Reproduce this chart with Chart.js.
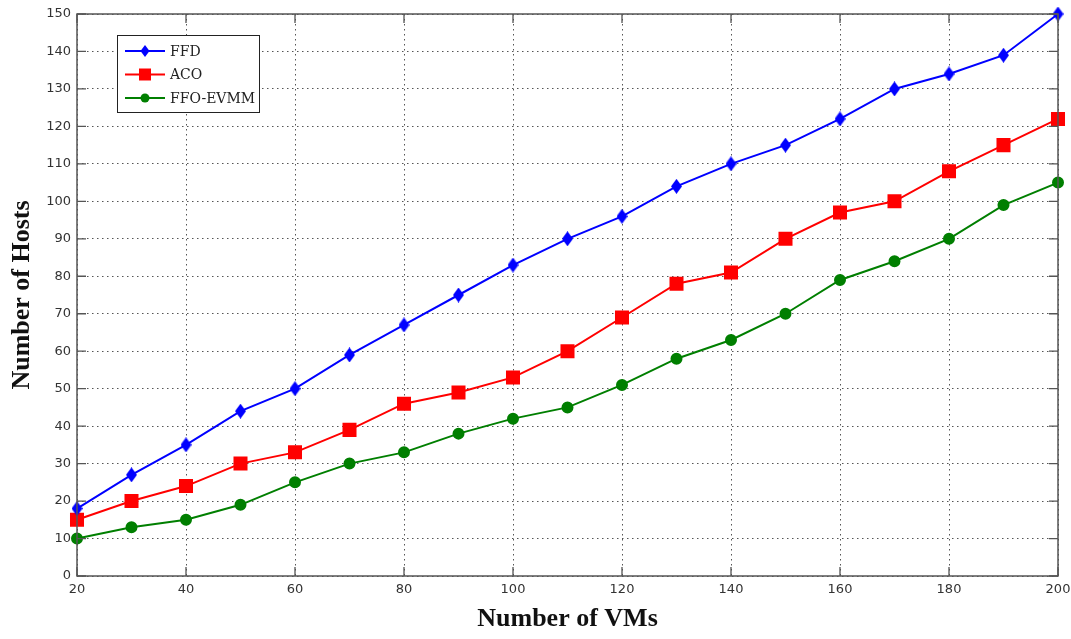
<!DOCTYPE html>
<html>
<head>
<meta charset="utf-8">
<script src="https://cdn.jsdelivr.net/npm/chart.js@4.4.0/dist/chart.umd.min.js"></script>
<style>
  html, body { margin: 0; padding: 0; background: #fff; }
  #wrap { width: 1071px; height: 639px; position: relative; }
</style>
</head>
<body>
<div id="wrap"><canvas id="chart1"></canvas></div>
<script>
// number of VMs on the x axis
const vms = [20, 30, 40, 50, 60, 70, 80, 90, 100, 110, 120, 130, 140, 150, 160, 170, 180, 190, 200];
const ffd = [18, 27, 35, 44, 50, 59, 67, 75, 83, 90, 96, 104, 110, 115, 122, 130, 134, 139, 150];
const aco = [15, 20, 24, 30, 33, 39, 46, 49, 53, 60, 69, 78, 81, 90, 97, 100, 108, 115, 122];
const ffoEvmm = [10, 13, 15, 19, 25, 30, 33, 38, 42, 45, 51, 58, 63, 70, 79, 84, 90, 99, 105];
const seriesNames = ['FFD', 'ACO', 'FFO-EVMM'];

const tickFont = { family: "'DejaVu Sans', sans-serif", size: 13 };
const titleFont = { family: "'Liberation Serif', serif", size: 26, weight: 'bold' };

function pts(vals) {
    return vals.map((v, i) => ({ x: vms[i], y: v }));
}

// tall blue diamond marker like the matlab one
function diamond(w, h, color) {
    const c = document.createElement('canvas');
    c.width = w; c.height = h;
    const g = c.getContext('2d');
    g.fillStyle = color;
    g.beginPath();
    g.moveTo(w / 2, 0); g.lineTo(w, h / 2); g.lineTo(w / 2, h); g.lineTo(0, h / 2);
    g.closePath();
    g.fill();
    return c;
}
const ffdMarker = diamond(11, 15, '#0000ff');

// frame, inward ticks on all four sides and the boxed legend
const matlabBox = {
    id: 'matlabBox',
    afterDraw(chart) {
        const ctx = chart.ctx;
        const a = chart.chartArea;
        const xs = chart.scales.x, ys = chart.scales.y;
        ctx.save();
        ctx.strokeStyle = '#555';
        ctx.lineWidth = 1.5;
        ctx.strokeRect(a.left, a.top, a.right - a.left, a.bottom - a.top);
        ctx.lineWidth = 1.3;
        ctx.beginPath();
        xs.ticks.forEach(t => {
            const px = xs.getPixelForValue(t.value);
            ctx.moveTo(px, a.bottom); ctx.lineTo(px, a.bottom - 9);
            ctx.moveTo(px, a.top); ctx.lineTo(px, a.top + 9);
        });
        ys.ticks.forEach(t => {
            const py = ys.getPixelForValue(t.value);
            ctx.moveTo(a.left, py); ctx.lineTo(a.left + 9, py);
            ctx.moveTo(a.right, py); ctx.lineTo(a.right - 9, py);
        });
        ctx.stroke();

        // legend
        const lx = a.left + 40, ly = a.top + 21, lw = 142, lh = 77;
        ctx.fillStyle = '#fff';
        ctx.fillRect(lx, ly, lw, lh);
        ctx.strokeStyle = '#222';
        ctx.lineWidth = 1;
        ctx.strokeRect(lx + 0.5, ly + 0.5, lw, lh);
        ctx.font = "14px 'DejaVu Serif', serif";
        ctx.textBaseline = 'middle';
        chart.data.datasets.forEach((ds, i) => {
            const y = ly + 16 + i * 23.5;
            ctx.strokeStyle = ds.borderColor;
            ctx.lineWidth = 2;
            ctx.beginPath();
            ctx.moveTo(lx + 8, y); ctx.lineTo(lx + 48, y);
            ctx.stroke();
            ctx.fillStyle = ds.borderColor;
            const cx = lx + 28;
            ctx.beginPath();
            if (i === 0) {
                ctx.moveTo(cx, y - 6); ctx.lineTo(cx + 4.5, y); ctx.lineTo(cx, y + 6); ctx.lineTo(cx - 4.5, y);
                ctx.closePath();
            } else if (ds.pointStyle === 'rect') {
                ctx.rect(cx - 6, y - 6, 12, 12);
            } else {
                ctx.arc(cx, y, 4.5, 0, Math.PI * 2);
            }
            ctx.fill();
            ctx.fillStyle = '#222';
            ctx.fillText(seriesNames[i], lx + 53, y + 1);
        });
        ctx.restore();
    }
};

new Chart(document.getElementById('chart1').getContext('2d'), {
    type: 'line',
    data: {
        datasets: [
            {
                label: seriesNames[0], data: pts(ffd),
                borderColor: '#0000ff', backgroundColor: '#0000ff',
                borderWidth: 2, pointStyle: ffdMarker, pointRadius: 7, pointHoverRadius: 7
            },
            {
                label: seriesNames[1], data: pts(aco),
                borderColor: '#ff0000', backgroundColor: '#ff0000',
                borderWidth: 2, pointStyle: 'rect', pointRadius: 8.5, pointHoverRadius: 8.5
            },
            {
                label: seriesNames[2], data: pts(ffoEvmm),
                borderColor: '#007f00', backgroundColor: '#007f00',
                borderWidth: 2, pointStyle: 'circle', pointRadius: 5, pointHoverRadius: 5
            }
        ]
    },
    options: {
        responsive: true,
        maintainAspectRatio: false,
        animation: false,
        clip: false,
        layout: { padding: { top: 14, right: 0, left: 3, bottom: 0 } },
        plugins: { legend: { display: false }, tooltip: { enabled: false } },
        elements: { line: { tension: 0 } },
        scales: {
            x: {
                type: 'linear', min: 20, max: 200,
                ticks: { stepSize: 20, color: '#333', font: tickFont, padding: 6, maxRotation: 0 },
                grid: { color: '#555', drawTicks: false, lineWidth: 1 },
                border: { display: false, dash: [1.5, 3.5] },
                title: { display: true, text: 'Number of VMs', color: '#111', font: titleFont, padding: { top: 6 } },
                afterFit(scale) {
                    scale.height = 63;
                    scale.paddingRight = 13;
                }
            },
            y: {
                min: 0, max: 150,
                ticks: { stepSize: 10, color: '#333', font: tickFont, padding: 6 },
                grid: { color: '#555', drawTicks: false, lineWidth: 1 },
                border: { display: false, dash: [1.5, 3.5] },
                title: { display: true, text: 'Number of Hosts', color: '#111', font: titleFont, padding: { bottom: 4 } },
                afterFit(scale) { scale.width = 74; }
            }
        }
    },
    plugins: [matlabBox]
});
</script>
</body>
</html>
